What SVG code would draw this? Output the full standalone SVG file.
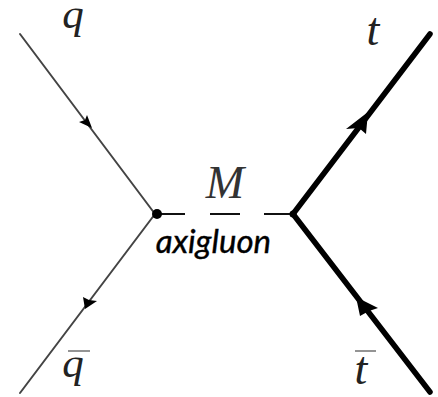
<svg xmlns="http://www.w3.org/2000/svg" width="438" height="397" viewBox="0 0 438 397">
<style>
.thin{stroke:#444;stroke-width:2;fill:none;stroke-linecap:round}
.thick{stroke:#000;stroke-width:5.5;fill:none;stroke-linecap:round}
.dash{stroke:#111;stroke-width:2;fill:none}
.head{fill:#000}
.math{font-family:"Liberation Serif",serif;font-style:italic;fill:#222;text-anchor:middle}
.q{font-size:43px}
.t{font-size:46px}
.m{font-size:46px;fill:#333}
.bar{stroke:#666;stroke-width:1.4;fill:none}
.label{font-family:"Lato",sans-serif;font-style:italic;font-size:33px;fill:#000;stroke:#000;stroke-width:.4;text-anchor:middle}
</style>
<rect width="438" height="397" fill="#fff"/>
<g id="connectors">
<path class="thin" d="M20 34L155 214"/>
<path class="thin" d="M155 214L20 393"/>
<path class="dash" d="M155 214H185M210 214H240M264 214H293"/>
<path class="thick" d="M293 214L430 34"/>
<path class="thick" d="M293 214L430 392"/>
<path class="head" d="M92 128L79 122L85 120L87 115Z"/>
<path class="head" d="M85 309L83 297L89 300L97 301Z"/>
<path class="head" d="M368 112L366 134L359 128L346 129Z"/>
<path class="head" d="M356 297L378 308L369 311L360 316Z"/>
</g>
<g id="node-q"><text class="math q" x="73" y="28">q</text></g>
<g id="node-qbar"><line class="bar" x1="68" y1="351" x2="90" y2="351"/><text class="math q" x="73" y="377">q</text></g>
<g id="node-t"><text class="math t" x="373" y="45">t</text></g>
<g id="node-tbar"><line class="bar" x1="355" y1="351" x2="376" y2="351"/><text class="math t" x="361" y="384">t</text></g>
<g id="node-vertex-left"><circle cx="157" cy="214" r="5" fill="#000"/></g>
<g id="node-vertex-right"><circle cx="293" cy="214" r="3.5" fill="#000"/></g>
<g id="node-mediator"><text class="math m" x="225" y="198">M</text><text class="label" x="213.5" y="253">axigluon</text></g>
</svg>
